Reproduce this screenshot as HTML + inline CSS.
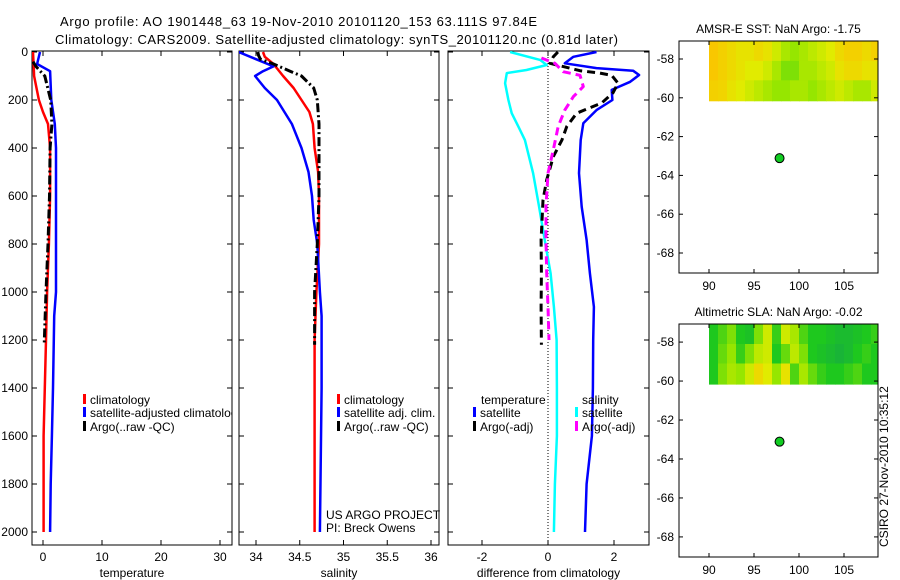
<!DOCTYPE html>
<html><head><meta charset="utf-8"><style>
html,body{margin:0;padding:0;background:#fff;}
svg{display:block;font-family:"Liberation Sans",Arial,sans-serif;}
text{font-size:12px;fill:#000;}
</style></head><body>
<svg id="chart" width="900" height="580" viewBox="0 0 900 580" xmlns="http://www.w3.org/2000/svg">
<text x="60" y="26" font-size="13" style="font-size:13px" textLength="477">Argo profile: AO 1901448_63 19-Nov-2010 20101120_153 63.111S 97.84E</text>
<text x="55" y="44" font-size="13" style="font-size:13px" textLength="563">Climatology: CARS2009. Satellite-adjusted climatology: synTS_20101120.nc (0.81d later)</text>
<g id="g"></g>
</svg>
<script>
// ---------- data ----------
const depthTicks=[0,200,400,600,800,1000,1200,1400,1600,1800,2000];
const tempTicks=[0,10,20,30];
const salTicks=[34,34.5,35,35.5,36];
const diffTicks=[-2,0,2];
// temperature panel
const tClimDepth=[0,50,100,150,200,250,300,400,600,800,1000,1200,1400,1600,2000];
const tClimVal=[-1.7,-1.6,-1.5,-1.1,-0.7,0,0.85,1.2,1.2,1.0,0.7,0.5,0.3,0.1,0.1];
const tSatDepth=[0,50,80,200,300,400,1000,1100,1400,1600,1800,2000];
const tSatVal=[-0.5,-1.0,1.2,1.4,2.0,2.2,2.2,1.9,1.7,1.5,1.3,1.2];
const tArgoDepth=[40,60,100,200,300,400,600,800,1000,1220];
const tArgoVal=[-1.7,-1.2,0.3,1.3,1.5,1.2,1.1,0.85,0.5,0.2];
// salinity panel
const sClimDepth=[0,20,50,100,150,200,250,300,400,500,600,800,1000,1200,1400,2000];
const sClimVal=[34.08,34.1,34.2,34.31,34.43,34.52,34.61,34.65,34.67,34.71,34.72,34.72,34.69,34.67,34.67,34.67];
const sSatDepth=[0,30,60,80,100,150,200,300,400,500,600,700,800,1000,1100,1200,1400,2000];
const sSatVal=[33.8,34.0,34.2,34.08,33.99,34.1,34.24,34.41,34.52,34.6,34.64,34.66,34.7,34.73,34.75,34.75,34.75,34.73];
const sArgoDepth=[0,15,30,50,80,100,150,200,300,600,800,1000,1220];
const sArgoVal=[34.02,34.03,34.05,34.2,34.39,34.52,34.66,34.7,34.72,34.72,34.7,34.67,34.67];
// difference panel
const dSalSatDepth=[0,33,54,75,88,130,200,255,310,367,505,645,783,922,1062,1200,1400,1600,1800,2000];
const dSalSatVal=[-1.15,-0.24,-0.04,-0.65,-1.25,-1.3,-1.2,-1.1,-0.9,-0.7,-0.45,-0.27,-0.1,0.08,0.18,0.26,0.27,0.27,0.21,0.18];
const dTSatDepth=[0,20,47,67,78,96,124,158,200,242,297,367,505,645,783,922,1062,1200,1400,1600,1800,2000];
const dTSatVal=[1.47,0.77,0.51,1.47,2.58,2.76,2.49,1.93,1.95,1.47,1.07,0.99,0.94,1.02,1.17,1.27,1.39,1.37,1.36,1.33,1.17,1.12];
const dTArgoDepth=[0,20,47,78,88,97,130,170,212,255,310,367,436,533,617,783,922,1062,1220];
const dTArgoVal=[0.3,0.16,0.06,0.97,1.57,1.93,2.12,1.97,1.63,0.87,0.57,0.42,0.16,-0.04,-0.15,-0.21,-0.2,-0.21,-0.2];
const dSArgoDepth=[25,47,82,97,144,186,242,310,408,505,645,783,922,1062,1200];
const dSArgoVal=[-0.2,0.21,0.46,0.97,1.07,0.77,0.51,0.31,0.16,0.0,-0.06,-0.06,-0.04,0,0.03];
// maps
const lonTicks=[90,95,100,105];
const latTicks=[-58,-60,-62,-64,-66,-68];
const fieldLons=[90,91,92,93,94,95,96,97,98,99,100,101,102,103,104,105,106,107,108];
const fieldLatEdges=[-57.1,-58.1,-59.1,-60.15];
const sstRow1=[0.95,0.9,0.85,0.8,0.8,0.85,0.8,0.7,0.6,0.55,0.6,0.65,0.7,0.75,0.85,0.9,0.9,0.85,0.9];
const sstRow2=[0.95,0.9,0.85,0.8,0.75,0.75,0.7,0.6,0.5,0.5,0.6,0.6,0.65,0.7,0.8,0.85,0.85,0.8,0.8];
const sstRow3=[0.9,0.88,0.8,0.75,0.7,0.65,0.6,0.55,0.55,0.6,0.6,0.55,0.6,0.65,0.7,0.65,0.6,0.6,0.7];
const slaRow1=[0.3,0.4,0.5,0.3,0.25,0.5,0.7,0.35,0.7,0.6,0.4,0.3,0.3,0.25,0.2,0.2,0.25,0.3,0.35];
const slaRow2=[0.3,0.45,0.55,0.35,0.5,0.65,0.7,0.3,0.45,0.65,0.5,0.3,0.25,0.2,0.15,0.2,0.3,0.35,0.3];
const slaRow3=[0.3,0.5,0.6,0.55,0.7,0.85,0.75,0.55,0.8,0.4,0.6,0.45,0.35,0.3,0.3,0.35,0.4,0.3,0.3];
const floatLon=[97.84];
const floatLat=[-63.111];

// ---------- helpers ----------
const NS='http://www.w3.org/2000/svg';
const G=document.getElementById('g');
function el(tag,attrs,parent){const e=document.createElementNS(NS,tag);for(const k in attrs)e.setAttribute(k,attrs[k]);(parent||G).appendChild(e);return e;}
function txt(x,y,s,anchor,parent){const t=el('text',{x:x,y:y,'text-anchor':anchor||'start'},parent);t.textContent=s;return t;}
function lin(d0,d1,r0,r1){return v=>r0+(v-d0)*(r1-r0)/(d1-d0);}
const yDep=lin(0,2000,52,532);
const TOP=51,BOT=545;
const panels=[
 {name:'temperature-panel',x0:32,x1:232,fx:lin(0,10,43,102),ticks:tempTicks,title:'temperature',labels:true},
 {name:'salinity-panel',x0:239,x1:439,fx:lin(34,35,256,343.5),ticks:salTicks,title:'salinity',labels:false},
 {name:'difference-panel',x0:448,x1:649,fx:lin(0,2,548,614),ticks:diffTicks,title:'difference from climatology',labels:false}
];
panels.forEach((p,i)=>{
 const g=el('g',{});
 
 
 p.g=g;
 const cp=el('clipPath',{id:'cp'+i},g);
 el('rect',{x:p.x0,y:TOP,width:p.x1-p.x0,height:BOT-TOP},cp);
 p.clip='url(#cp'+i+')';
 const fr=el('rect',{x:p.x0,y:TOP,width:p.x1-p.x0,height:BOT-TOP,fill:'none',stroke:'#000','stroke-width':1},g);
 
 
 depthTicks.forEach(d=>{
  const y=yDep(d);
  el('line',{x1:p.x0,x2:p.x0+5,y1:y,y2:y,stroke:'#000'},g);
  el('line',{x1:p.x1,x2:p.x1-5,y1:y,y2:y,stroke:'#000'},g);
  if(p.labels){const t=txt(p.x0-4,y+4,String(d),'end',g);
   
   }
 });
 p.ticks.forEach(v=>{
  const x=p.fx(v);
  el('line',{x1:x,x2:x,y1:BOT,y2:BOT-5,stroke:'#000'},g);
  el('line',{x1:x,x2:x,y1:TOP,y2:TOP+5,stroke:'#000'},g);
  const t=txt(x,561,String(v),'middle',g);
  
  
 });
 const at=txt((p.x0+p.x1)/2,577,p.title,'middle',g);
 
 
});
function series(p,depths,vals,color,w,dash,name){
 const pts=depths.map((d,i)=>p.fx(vals[i]).toFixed(1)+','+yDep(d).toFixed(1)).join(' ');
 const a={points:pts,fill:'none',stroke:color,'stroke-width':w,'clip-path':p.clip,'stroke-linejoin':'round'};
 if(dash)a['stroke-dasharray']=dash;
 const pl=el('polyline',a,p.g);
 
 
}
const P1=panels[0],P2=panels[1],P3=panels[2];
series(P1,tClimDepth,tClimVal,'#ff0000',2.5,null,'temperature-climatology-line');
series(P1,tSatDepth,tSatVal,'#0000ff',2.5,null,'temperature-satellite-line');
series(P1,tArgoDepth,tArgoVal,'#000',3,'9,3,2,3','temperature-argo-line');
series(P2,sClimDepth,sClimVal,'#ff0000',2.5,null,'salinity-climatology-line');
series(P2,sSatDepth,sSatVal,'#0000ff',2.5,null,'salinity-satellite-line');
series(P2,sArgoDepth,sArgoVal,'#000',3,'9,3,2,3','salinity-argo-line');
const zl=el('line',{x1:P3.fx(0),x2:P3.fx(0),y1:TOP,y2:BOT,stroke:'#000','stroke-width':1,'stroke-dasharray':'1,2'},P3.g);


series(P3,dSalSatDepth,dSalSatVal,'#00ffff',2.5,null,'salinity-satellite-diff-line');
series(P3,dTSatDepth,dTSatVal,'#0000ff',2.5,null,'temperature-satellite-diff-line');
series(P3,dTArgoDepth,dTArgoVal,'#000',3,'8,5','temperature-argo-diff-line');
series(P3,dSArgoDepth,dSArgoVal,'#ff00ff',3,'8,5','salinity-argo-diff-line');

// legends
function legend(p,x,y,color,label){
 const g=el('g',{'clip-path':p.clip},p.g);
 
 
 el('rect',{x:x,y:y-10,width:3,height:10,fill:color},g);
 txt(x+7,y,label,'start',g);
}
legend(P1,83,404,'#ff0000','climatology');
legend(P1,83,417,'#0000ff','satellite-adjusted climatology');
legend(P1,83,431,'#000','Argo(..raw -QC)');
legend(P2,337,404,'#ff0000','climatology');
legend(P2,337,417,'#0000ff','satellite adj. clim.');
legend(P2,337,431,'#000','Argo(..raw -QC)');
let lt=txt(481,404,'temperature','start',P3.g);


lt=txt(582,404,'salinity','start',P3.g);


legend(P3,473,417,'#0000ff','satellite');
legend(P3,473,431,'#000','Argo(-adj)');
legend(P3,575,417,'#00ffff','satellite');
legend(P3,575,431,'#ff00ff','Argo(-adj)');
let cr=txt(326,519,'US ARGO PROJECT','start',P2.g);


cr=txt(326,532,'PI: Breck Owens','start',P2.g);



// ---------- maps ----------
const stops=[[0,[20,160,80]],[0.3,[30,200,30]],[0.55,[150,230,0]],[0.75,[225,235,0]],[1,[255,190,0]]];
function cmap(v){for(let i=1;i<stops.length;i++){if(v<=stops[i][0]){const a=stops[i-1],b=stops[i];const t=(v-a[0])/(b[0]-a[0]);const c=a[1].map((c0,k)=>Math.round(c0+(b[1][k]-c0)*t));return 'rgb('+c.join(',')+')';}}return 'rgb(255,190,0)';}
function mapPanel(name,top,bot,title,rows){
 const x0=679,x1=878;
 const fx=lin(90,105,709,844);
 const fy=lin(-58,-68,top+(bot-top)*0.0776,top+(bot-top)*0.9138);
 const g=el('g',{});
 
 
 const id='mc'+name;
 const cp=el('clipPath',{id:id},g);
 el('rect',{x:x0,y:top,width:x1-x0,height:bot-top},cp);
 const fg=el('g',{'clip-path':'url(#'+id+')'},g);
 rows.forEach((row,r)=>{
  row.forEach((v,c)=>{
   const xa=fx(fieldLons[c]),xb=fx(fieldLons[c]+1);
   const ya=fy(fieldLatEdges[r]),yb=fy(fieldLatEdges[r+1]);
   const rc=el('rect',{x:xa.toFixed(1),y:Math.min(ya,yb).toFixed(1),width:(xb-xa+0.6).toFixed(1),height:(Math.abs(yb-ya)+0.6).toFixed(1),fill:cmap(v)},fg);
   
   
  });
 });
 const fr=el('rect',{x:x0,y:top,width:x1-x0,height:bot-top,fill:'none',stroke:'#000'},g);
 
 
 latTicks.forEach(v=>{const y=fy(v);
  el('line',{x1:x0,x2:x0+4,y1:y,y2:y,stroke:'#000'},g);
  el('line',{x1:x1,x2:x1-4,y1:y,y2:y,stroke:'#000'},g);
  const t=txt(x0-5,y+4,String(v),'end',g);
  
  });
 lonTicks.forEach(v=>{const x=fx(v);
  el('line',{x1:x,x2:x,y1:bot,y2:bot-4,stroke:'#000'},g);
  el('line',{x1:x,x2:x,y1:top,y2:top+4,stroke:'#000'},g);
  const t=txt(x,bot+17,String(v),'middle',g);
  
  });
 const tt=txt((x0+x1)/2,top-8,title,'middle',g);
 
 
 floatLon.forEach((lo,i)=>{
  const d=el('circle',{cx:fx(lo),cy:fy(floatLat[i]),r:4.5,fill:'#11cc22',stroke:'#000','stroke-width':1},g);
  
  
 });
}
mapPanel('sst-map',41,273,'AMSR-E SST: NaN Argo: -1.75',[sstRow1,sstRow2,sstRow3]);
mapPanel('sla-map',324,557,'Altimetric SLA: NaN Argo: -0.02',[slaRow1,slaRow2,slaRow3]);
const ts=txt(0,0,'CSIRO 27-Nov-2010 10:35:12','start');
ts.setAttribute('transform','translate(888,547) rotate(-90)');


</script>
</body></html>
